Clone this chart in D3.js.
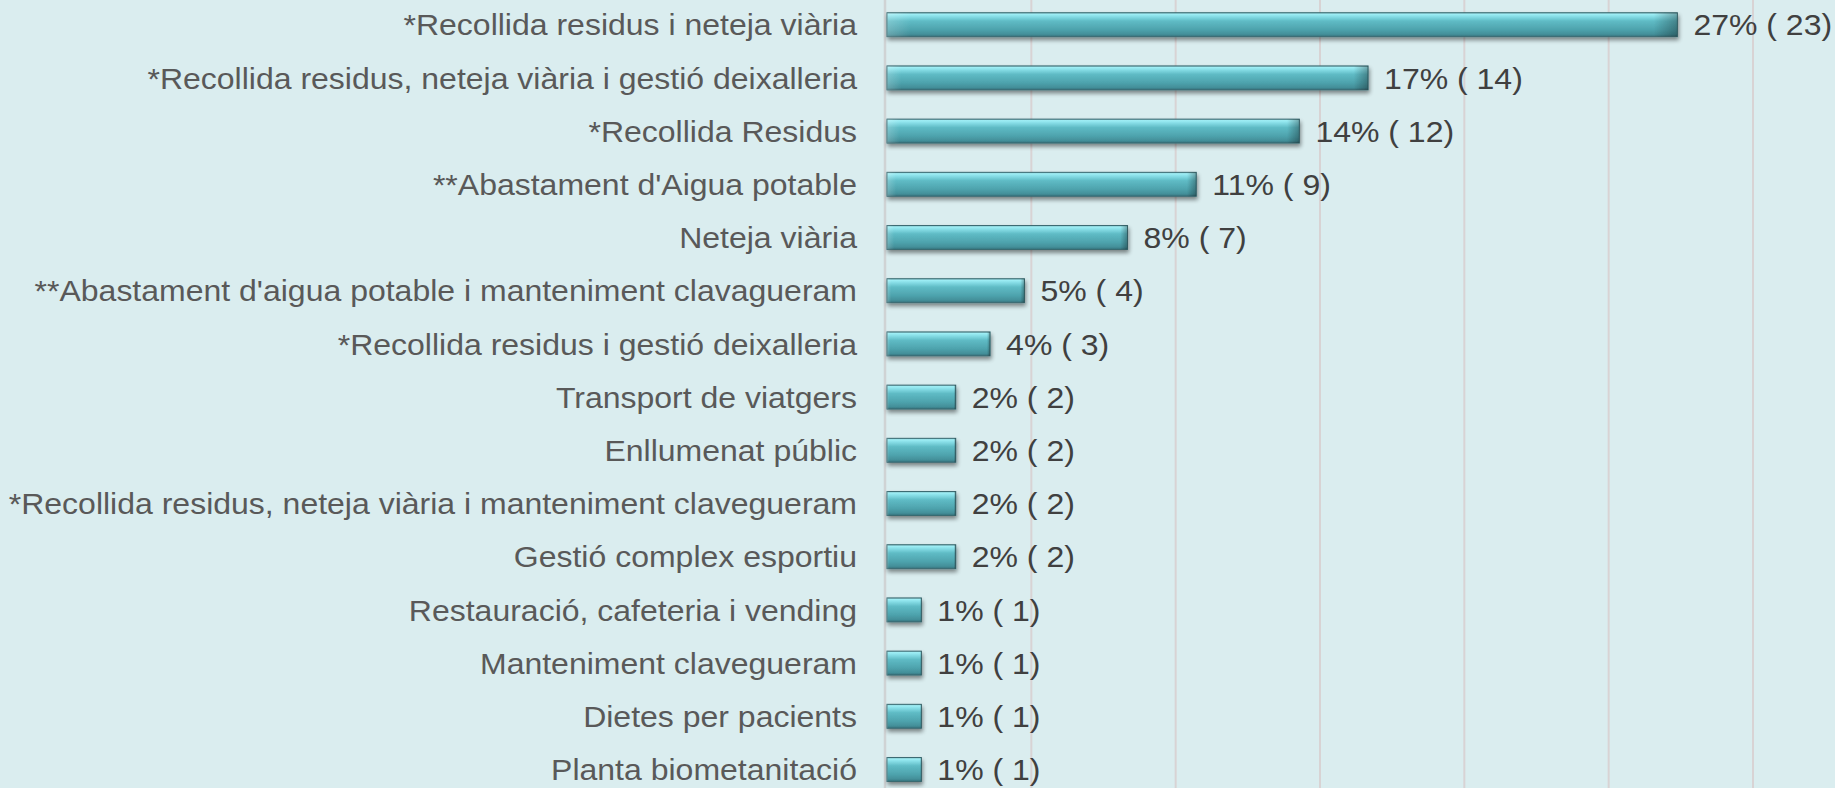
<!DOCTYPE html>
<html>
<head>
<meta charset="utf-8">
<script src="https://cdn.jsdelivr.net/npm/d3@7"></script>
<style>
  html, body { margin: 0; padding: 0; background: #daedef; overflow: hidden; }
  svg { display: block; }
</style>
</head>
<body>
<svg id="chart" width="1835" height="788"></svg>
<script>
// Contract categories and number of contracts per category
const categories = [
  "*Recollida residus i neteja viària",
  "*Recollida residus, neteja viària i gestió deixalleria",
  "*Recollida Residus",
  "**Abastament d'Aigua potable",
  "Neteja viària",
  "**Abastament d'aigua potable i manteniment clavagueram",
  "*Recollida residus i gestió deixalleria",
  "Transport de viatgers",
  "Enllumenat públic",
  "*Recollida residus, neteja viària i manteniment clavegueram",
  "Gestió complex esportiu",
  "Restauració, cafeteria i vending",
  "Manteniment clavegueram",
  "Dietes per pacients",
  "Planta biometanitació"
];
const counts = [23, 14, 12, 9, 7, 4, 3, 2, 2, 2, 2, 1, 1, 1, 1];
const gridTicks = [0, 5, 10, 15, 20, 25, 30];

const W = 1835, H = 788;
const total = d3.sum(counts);
const rows = categories.map((c, i) => ({
  name: c,
  count: counts[i],
  share: counts[i] / total * 100
}));

const svg = d3.select("#chart");

const x = d3.scaleLinear().domain([0, 30]).range([887, 1753]);
const y = d3.scaleBand()
  .domain(categories)
  .range([-1.9, -1.9 + 53.2 * categories.length])
  .paddingInner(0.55)
  .paddingOuter(0.275);

const defs = svg.append("defs");

// glossy cylinder fill for the bars
const g1 = defs.append("linearGradient")
  .attr("id", "barFill").attr("x1", 0).attr("y1", 0).attr("x2", 0).attr("y2", 1);
[
  [0, "#7fb7bd"],
  [0.06, "#9eeef5"],
  [0.16, "#86dde6"],
  [0.35, "#5fbbc5"],
  [0.7, "#4ea3ad"],
  [0.9, "#438f99"],
  [1, "#35707a"]
].forEach(([o, c]) => g1.append("stop").attr("offset", o).attr("stop-color", c));

// lighter left end, darker right end
const g2 = defs.append("linearGradient")
  .attr("id", "barEdge").attr("x1", 0).attr("y1", 0).attr("x2", 1).attr("y2", 0);
g2.append("stop").attr("offset", 0).attr("stop-color", "#ffffff").attr("stop-opacity", 0.2);
g2.append("stop").attr("offset", 0.03).attr("stop-color", "#ffffff").attr("stop-opacity", 0);
g2.append("stop").attr("offset", 0.97).attr("stop-color", "#000000").attr("stop-opacity", 0);
g2.append("stop").attr("offset", 1).attr("stop-color", "#000000").attr("stop-opacity", 0.3);

const shadow = defs.append("filter").attr("id", "shadow")
  .attr("x", "-10%").attr("y", "-30%").attr("width", "130%").attr("height", "180%");
shadow.append("feGaussianBlur").attr("in", "SourceAlpha").attr("stdDeviation", 2.2).attr("result", "b");
shadow.append("feOffset").attr("in", "b").attr("dx", 1).attr("dy", 3).attr("result", "o");
shadow.append("feComponentTransfer").attr("in", "o").attr("result", "s")
  .append("feFuncA").attr("type", "linear").attr("slope", 0.45);
const merge = shadow.append("feMerge");
merge.append("feMergeNode").attr("in", "s");
merge.append("feMergeNode").attr("in", "SourceGraphic");

// vertical gridlines
svg.append("g")
  .selectAll("line")
  .data(gridTicks.slice(1))
  .join("line")
  .attr("x1", d => x(d)).attr("x2", d => x(d))
  .attr("y1", 0).attr("y2", H)
  .attr("stroke", "#d8d3d4").attr("stroke-width", 2);

// category axis line
svg.append("line")
  .attr("x1", x(0) - 2).attr("x2", x(0) - 2)
  .attr("y1", 0).attr("y2", H)
  .attr("stroke", "#cfd3d4").attr("stroke-width", 2.5);

// bars
const bars = svg.append("g").selectAll("g")
  .data(rows)
  .join("g")
  .attr("filter", "url(#shadow)");

bars.append("rect")
  .attr("x", x(0))
  .attr("y", d => y(d.name))
  .attr("width", d => x(d.share) - x(0))
  .attr("height", y.bandwidth())
  .attr("fill", "url(#barFill)")
  .attr("stroke", "#3a6a71")
  .attr("stroke-width", 1);

bars.append("rect")
  .attr("x", x(0))
  .attr("y", d => y(d.name))
  .attr("width", d => x(d.share) - x(0))
  .attr("height", y.bandwidth())
  .attr("fill", "url(#barEdge)");

// text is slightly wide relative to its height
const sx = 1.085;
const fontSize = 29.5;

// category labels
svg.append("g").selectAll("text")
  .data(rows)
  .join("text")
  .attr("transform", d => `translate(857,${y(d.name) + y.bandwidth() / 2}) scale(${sx},1)`)
  .attr("dy", "0.36em")
  .attr("text-anchor", "end")
  .attr("font-family", "Liberation Sans, Arial, sans-serif")
  .attr("font-size", fontSize)
  .attr("fill", "#595959")
  .text(d => d.name);

// value labels: share and count
svg.append("g").selectAll("text")
  .data(rows)
  .join("text")
  .attr("transform", d => `translate(${x(d.share) + 16},${y(d.name) + y.bandwidth() / 2}) scale(${sx},1)`)
  .attr("dy", "0.36em")
  .attr("font-family", "Liberation Sans, Arial, sans-serif")
  .attr("font-size", fontSize)
  .attr("fill", "#404040")
  .text(d => `${Math.round(d.share)}% ( ${d.count})`);
</script>
</body>
</html>
